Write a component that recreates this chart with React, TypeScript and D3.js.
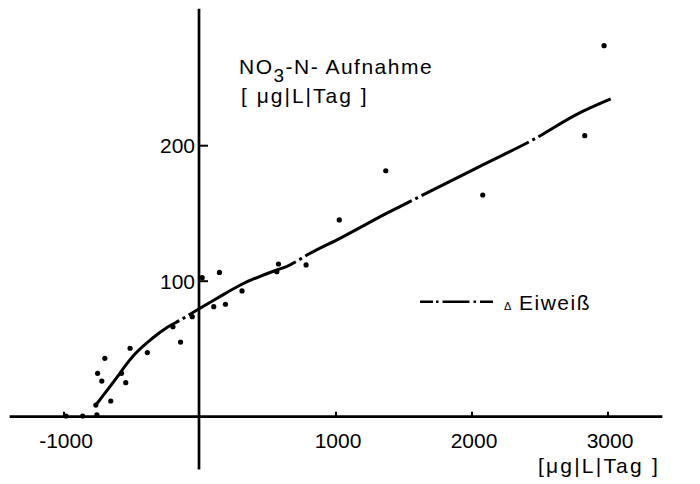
import React from "react";
import * as d3 from "d3";

// ---- data ----
const xTicks: number[] = [-1000, 1000, 2000, 3000];
const xTickLabels: string[] = ["-1000", "1000", "2000", "3000"];
const yTicks: number[] = [100, 200];
const yTickLabels: string[] = ["100", "200"];

// scatter observations (x: µg/L/Tag, y: NO3-N uptake)
const pointX: number[] = [
  -985, -863, -758, -766, -656, -722, -753, -700, -577, -546, -514, -387,
  -199, -143, -57, 16, 101, 143, 187, 309, 565, 577, 780, 1024, 1366, 2079,
  2829, 2971,
];
const pointY: number[] = [
  0.5, 0.5, 1.3, 8.6, 11.6, 26.3, 32, 43.1, 32, 25.1, 50.5, 47.3,
  66.4, 55.1, 73.8, 102.6, 81.2, 106.5, 83, 92.8, 107, 112.7, 112, 145.2,
  181.5, 163.6, 207.4, 273.8,
];

// fitted curve
const curveX: number[] = [
  -766, -607, -546, -485, -350, -240, -143, 0, 126, 297, 565, 640, 810,
  1029, 1371, 1542, 2079, 2445, 2788, 3020,
];
const curveY: number[] = [
  8.6, 29.5, 38, 45.5, 57.9, 66, 71.4, 80, 87.4, 97.2, 108.3, 111, 120.6,
  131.6, 150, 158.7, 185.8, 204.2, 224, 234.5,
];

const axisXExtent: number[] = [-1400, 3400];
const axisYExtent: number[] = [-39, 301];

const yTitle = { main: "NO", sub: "3", rest: "-N- Aufnahme" };
const unitLabel = "[ μg|L|Tag ]";
const xUnitLabel = "[μg|L|Tag ]";
const legendLabel = "Eiweiß";

const FONT = "'Liberation Sans', Arial, sans-serif";

export default function App() {
  const W = 700;
  const H = 484;
  const x = d3.scaleLinear().domain([-1000, 3000]).range([64, 608]);
  const y = d3.scaleLinear().domain([0, 200]).range([416.7, 145.7]);

  const curve = curveX.map((v, i) => [v, curveY[i]] as [number, number]);
  const lineGen = d3
    .line<[number, number]>()
    .x((d) => x(d[0]))
    .y((d) => y(d[1]))
    .curve(d3.curveMonotoneX);

  const x0 = x(0);
  const y0 = y(0);

  return (
    <svg
      width={W}
      height={H}
      style={{ position: "absolute", left: 0, top: 0, background: "#fff" }}
      fontFamily={FONT}
    >
      <rect width={W} height={H} fill="#fff" />
      {/* x axis */}
      <line
        x1={x(axisXExtent[0])}
        x2={x(axisXExtent[1])}
        y1={y0}
        y2={y0}
        stroke="#000"
        strokeWidth={2.7}
      />
      {/* y axis */}
      <line
        x1={x0 - 1}
        x2={x0 - 1}
        y1={y(axisYExtent[1])}
        y2={y(axisYExtent[0])}
        stroke="#000"
        strokeWidth={2.7}
      />
      {/* x ticks */}
      {xTicks.map((t, i) => (
        <g key={"xt" + i}>
          <line
            x1={x(t)}
            x2={x(t)}
            y1={y0 - 1}
            y2={y0 - 5}
            stroke="#000"
            strokeWidth={2}
          />
          <text
            x={x(t) + 2}
            y={y0 + 31.5}
            textAnchor="middle"
            fontSize={21}
            fill="#000"
          >
            {xTickLabels[i]}
          </text>
        </g>
      ))}
      {/* y ticks */}
      {yTicks.map((t, i) => (
        <g key={"yt" + i}>
          <line
            x1={x0 - 1}
            x2={x0 + 8}
            y1={y(t)}
            y2={y(t)}
            stroke="#000"
            strokeWidth={2}
          />
          <text
            x={x0 - 5}
            y={y(t) + 7.5}
            textAnchor="end"
            fontSize={21}
            fill="#000"
          >
            {yTickLabels[i]}
          </text>
        </g>
      ))}
      {/* fitted curve */}
      <path
        d={lineGen(curve) || ""}
        fill="none"
        stroke="#000"
        strokeWidth={3}
        strokeDasharray="120 4 3 4"
        strokeLinecap="butt"
      />
      {/* points */}
      {pointX.map((v, i) => (
        <circle key={"p" + i} cx={x(v)} cy={y(pointY[i])} r={2.6} fill="#000" />
      ))}
      {/* y title */}
      <text x={239} y={74} fontSize={21} letterSpacing={1.5} fill="#000">
        {yTitle.main}
        <tspan dy={8} fontSize={19}>
          {yTitle.sub}
        </tspan>
        <tspan dy={-8}>{yTitle.rest}</tspan>
      </text>
      <text x={241} y={103} fontSize={21} letterSpacing={2} fill="#000">
        {unitLabel}
      </text>
      {/* x unit */}
      <text x={538} y={472.5} fontSize={21} letterSpacing={2.2} fill="#000">
        {xUnitLabel}
      </text>
      {/* legend */}
      <line
        x1={420}
        x2={493}
        y1={301.7}
        y2={301.7}
        stroke="#000"
        strokeWidth={2.6}
        strokeDasharray="13 3 2.5 4 27 4 2.5 4 13"
      />
      <text x={504} y={310} fontSize={11} fill="#000">
        Δ
      </text>
      <text x={519} y={310} fontSize={21} letterSpacing={1.5} fill="#000">
        {legendLabel}
      </text>
    </svg>
  );
}
